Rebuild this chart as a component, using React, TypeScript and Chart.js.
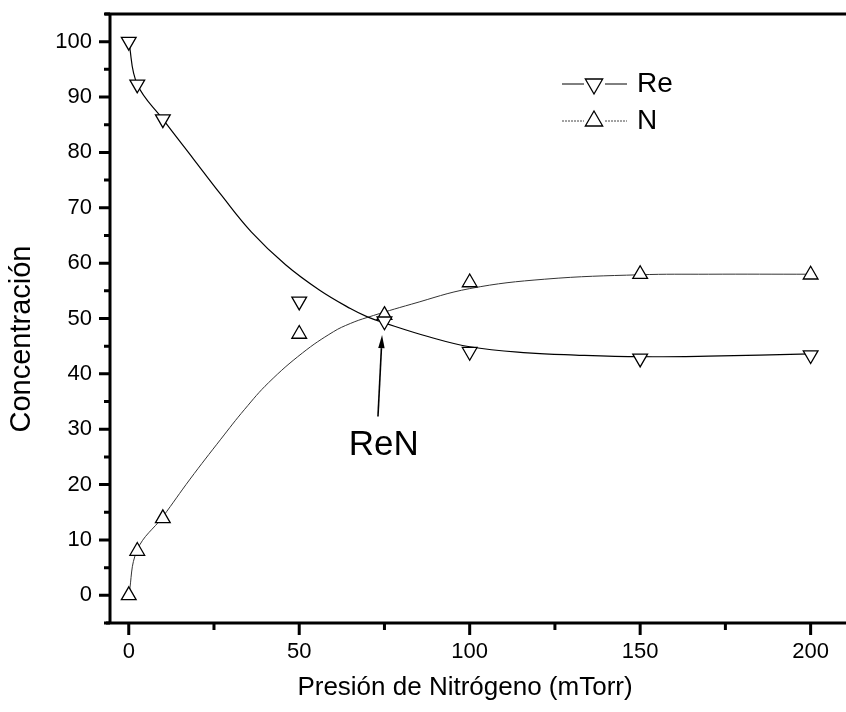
import { useEffect, useRef } from 'react';
import { Chart, registerables } from 'chart.js';

Chart.register(...registerables);

// ---- data ----
const pressure = [0, 2.5, 10, 50, 75, 100, 150, 200];
const reConc = [100, 92.3, 86, 53.1, 49.5, 44, 42.8, 43.4];
const nConc = [0, 8, 13.9, 47.2, 50.6, 56.5, 58, 57.9];

// smooth fitted curves
const reFitX = [0, 2.5, 10, 19, 27, 36, 46, 56, 65, 70, 75, 88, 100, 117, 131, 150, 170, 200];
const reFitY = [100, 92.3, 86, 78.8, 72.4, 65.6, 59.7, 55.1, 51.8, 50.3, 49.2, 46.7, 44.9, 43.8, 43.4, 43.1, 43.2, 43.6];
const nFitX = [0, 2.5, 10, 18, 27, 34, 41, 51, 60, 65, 70, 83, 100, 122, 150, 170, 200];
const nFitY = [0, 8.2, 14.2, 21.0, 28.2, 33.6, 38.4, 43.8, 47.6, 49.1, 50.2, 52.6, 55.4, 57.1, 57.9, 58, 58];

const seriesNames = ['Re', 'N'];
const xTicks = [0, 50, 100, 150, 200];
const xMinorTicks = [25, 75, 125, 175];
const yTicks = [0, 10, 20, 30, 40, 50, 60, 70, 80, 90, 100];
const yMinorTicks = [-5, 5, 15, 25, 35, 45, 55, 65, 75, 85, 95, 105];
const xTitle = 'Presión de Nitrógeno (mTorr)';
const yTitle = 'Concentración';
const annotationText = 'ReN';
const annotationLabel = { x: 74.8, y: 25.3 };
const arrowFrom = { x: 73.1, y: 32.3 };
const arrowTo = { x: 74.3, y: 47.0 };

const FONT = '"Liberation Sans", Arial, Helvetica, sans-serif';

function triangle(ctx: CanvasRenderingContext2D, x: number, y: number, r: number, down: boolean) {
  let rad = down ? Math.PI : 0;
  ctx.beginPath();
  for (let i = 0; i < 3; i++) {
    const px = x + Math.sin(rad) * r;
    const py = y - Math.cos(rad) * r;
    if (i === 0) ctx.moveTo(px, py);
    else ctx.lineTo(px, py);
    rad += (2 * Math.PI) / 3;
  }
  ctx.closePath();
  ctx.fillStyle = '#fff';
  ctx.fill();
  ctx.stroke();
}

const framePlugin = {
  id: 'frame',
  afterDraw(chart: any) {
    const { ctx, chartArea: a, scales } = chart;
    const xs = scales.x;
    const ys = scales.y;
    ctx.save();
    ctx.strokeStyle = '#000';
    ctx.fillStyle = '#000';
    ctx.lineCap = 'butt';

    // axes and top frame
    ctx.lineWidth = 3;
    ctx.beginPath();
    ctx.moveTo(a.left - 5, a.top);
    ctx.lineTo(chart.width, a.top);
    ctx.moveTo(a.left, a.top - 1.5);
    ctx.lineTo(a.left, a.bottom + 1.5);
    ctx.moveTo(a.left - 4, a.bottom);
    ctx.lineTo(chart.width, a.bottom);
    ctx.stroke();

    // ticks
    ctx.beginPath();
    yTicks.forEach((v) => {
      const y = ys.getPixelForValue(v);
      ctx.moveTo(a.left - 11, y);
      ctx.lineTo(a.left, y);
    });
    yMinorTicks.forEach((v) => {
      const y = ys.getPixelForValue(v);
      ctx.moveTo(a.left - 6, y);
      ctx.lineTo(a.left, y);
    });
    xTicks.forEach((v) => {
      const x = xs.getPixelForValue(v);
      ctx.moveTo(x, a.bottom);
      ctx.lineTo(x, a.bottom + 12);
    });
    xMinorTicks.forEach((v) => {
      const x = xs.getPixelForValue(v);
      ctx.moveTo(x, a.bottom);
      ctx.lineTo(x, a.bottom + 7);
    });
    ctx.stroke();

    // axis titles
    ctx.fillStyle = '#000';
    ctx.textAlign = 'center';
    ctx.textBaseline = 'middle';
    ctx.font = `26px ${FONT}`;
    ctx.fillText(xTitle, 465, 688);
    ctx.save();
    ctx.translate(22, 339);
    ctx.rotate(-Math.PI / 2);
    ctx.font = `29px ${FONT}`;
    ctx.fillText(yTitle, 0, 0);
    ctx.restore();

    // legend
    ctx.lineWidth = 1;
    ctx.strokeStyle = '#000';
    ctx.beginPath();
    ctx.moveTo(562, 84);
    ctx.lineTo(584, 84);
    ctx.moveTo(605, 84);
    ctx.lineTo(627, 84);
    ctx.stroke();
    ctx.lineWidth = 1.3;
    triangle(ctx, 594, 84, 10, true);

    ctx.save();
    ctx.strokeStyle = '#444';
    ctx.lineWidth = 1;
    ctx.setLineDash([2, 1]);
    ctx.beginPath();
    ctx.moveTo(562, 121);
    ctx.lineTo(584, 121);
    ctx.moveTo(605, 121);
    ctx.lineTo(627, 121);
    ctx.stroke();
    ctx.restore();
    ctx.lineWidth = 1.3;
    triangle(ctx, 594, 121, 10, false);

    ctx.fillStyle = '#000';
    ctx.textAlign = 'left';
    ctx.textBaseline = 'middle';
    ctx.font = `28px ${FONT}`;
    ctx.fillText(seriesNames[0], 637, 84);
    ctx.fillText(seriesNames[1], 637, 121);

    // ReN annotation with arrow
    const tx = xs.getPixelForValue(annotationLabel.x);
    const ty = ys.getPixelForValue(annotationLabel.y);
    ctx.textAlign = 'center';
    ctx.textBaseline = 'alphabetic';
    ctx.font = `35px ${FONT}`;
    ctx.fillText(annotationText, tx, ty);

    const x1 = xs.getPixelForValue(arrowFrom.x);
    const y1 = ys.getPixelForValue(arrowFrom.y);
    const x2 = xs.getPixelForValue(arrowTo.x);
    const y2 = ys.getPixelForValue(arrowTo.y);
    const ang = Math.atan2(y2 - y1, x2 - x1);
    const headLen = 13;
    const headHalf = 3.2;
    const bx = x2 - Math.cos(ang) * headLen;
    const by = y2 - Math.sin(ang) * headLen;
    ctx.lineWidth = 1.6;
    ctx.beginPath();
    ctx.moveTo(x1, y1);
    ctx.lineTo(bx, by);
    ctx.stroke();
    ctx.beginPath();
    ctx.moveTo(x2, y2);
    ctx.lineTo(bx + Math.sin(ang) * headHalf, by - Math.cos(ang) * headHalf);
    ctx.lineTo(bx - Math.sin(ang) * headHalf, by + Math.cos(ang) * headHalf);
    ctx.closePath();
    ctx.fill();

    ctx.restore();
  },
};

export default function App() {
  const ref = useRef<HTMLCanvasElement>(null);

  useEffect(() => {
    document.body.style.margin = '0';
    document.body.style.overflow = 'hidden';
    const canvas = ref.current;
    if (!canvas) return;

    const markerCommon = {
      showLine: false,
      pointRadius: 8.5,
      pointHoverRadius: 8.5,
      pointBackgroundColor: '#ffffff',
      pointBorderColor: '#000000',
      pointBorderWidth: 1.3,
      pointStyle: 'triangle' as const,
    };

    const chart = new Chart(canvas, {
      type: 'scatter',
      data: {
        datasets: [
          {
            label: seriesNames[0],
            data: pressure.map((x, i) => ({ x, y: reConc[i] })),
            ...markerCommon,
            pointRotation: 180,
          },
          {
            label: seriesNames[1],
            data: pressure.map((x, i) => ({ x, y: nConc[i] })),
            ...markerCommon,
            pointRotation: 0,
          },
          {
            label: seriesNames[0] + ' fit',
            data: reFitX.map((x, i) => ({ x, y: reFitY[i] })),
            showLine: true,
            pointRadius: 0,
            pointHoverRadius: 0,
            borderColor: '#000000',
            borderWidth: 1.2,
            tension: 0.4,
          },
          {
            label: seriesNames[1] + ' fit',
            data: nFitX.map((x, i) => ({ x, y: nFitY[i] })),
            showLine: true,
            pointRadius: 0,
            pointHoverRadius: 0,
            borderColor: '#333333',
            borderWidth: 1,
            tension: 0.4,
          },
        ],
      },
      options: {
        responsive: false,
        animation: false,
        devicePixelRatio: 1,
        events: [],
        layout: { padding: { top: 14, right: 0, bottom: 0, left: 0 } },
        plugins: {
          legend: { display: false },
          tooltip: { enabled: false },
          title: { display: false },
        },
        scales: {
          x: {
            type: 'linear',
            min: -5.5,
            max: 207.5,
            afterBuildTicks: (s: any) => {
              s.ticks = xTicks.map((v) => ({ value: v }));
            },
            afterFit: (s: any) => {
              s.height = 89;
              s.paddingLeft = 0;
              s.paddingRight = 0;
            },
            grid: { display: false, drawTicks: false },
            border: { display: false },
            ticks: {
              padding: 16,
              color: '#000',
              maxRotation: 0,
              autoSkip: false,
              font: { family: FONT, size: 22 },
            },
          },
          y: {
            type: 'linear',
            min: -5,
            max: 105,
            afterBuildTicks: (s: any) => {
              s.ticks = yTicks.map((v) => ({ value: v }));
            },
            afterFit: (s: any) => {
              s.width = 110;
              s.paddingTop = 0;
              s.paddingBottom = 0;
            },
            grid: { display: false, drawTicks: false },
            border: { display: false },
            ticks: {
              padding: 18,
              color: '#000',
              autoSkip: false,
              font: { family: FONT, size: 22 },
            },
          },
        },
      },
      plugins: [framePlugin],
    });

    return () => chart.destroy();
  }, []);

  return (
    <div style={{ width: 846, height: 712 }}>
      <canvas ref={ref} width={846} height={712} style={{ display: 'block' }} />
    </div>
  );
}
